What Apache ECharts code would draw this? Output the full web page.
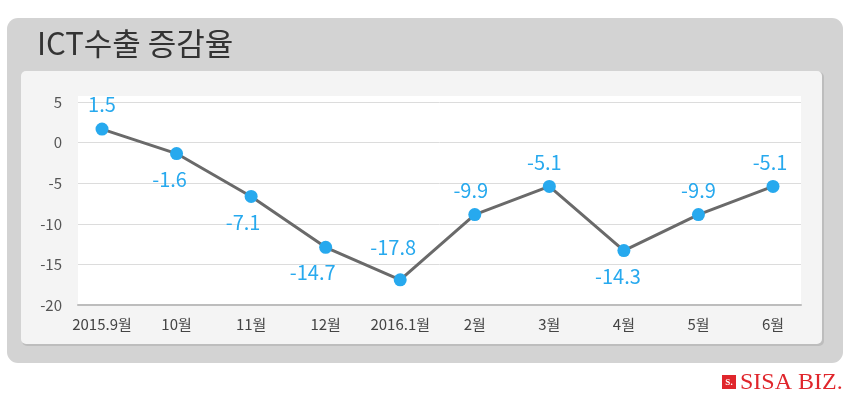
<!DOCTYPE html>
<html>
<head>
<meta charset="utf-8">
<script src="https://cdn.jsdelivr.net/npm/echarts@6/dist/echarts.min.js"></script>
<style>
html,body{margin:0;padding:0;background:#ffffff;}
#chart{width:860px;height:406px;}
</style>
</head>
<body>
<div id="chart"></div>
<script>
// ---- data ----
var categories = ['2015.9월', '10월', '11월', '12월', '2016.1월', '2월', '3월', '4월', '5월', '6월'];
// plotted positions
var values = [1.66, -1.35, -6.63, -12.9, -16.9, -8.86, -5.4, -13.3, -8.86, -5.4];
// printed value labels
var valueLabels = ['1.5', '-1.6', '-7.1', '-14.7', '-17.8', '-9.9', '-5.1', '-14.3', '-9.9', '-5.1'];
var yTicks = [5, 0, -5, -10, -15, -20];
var titleText = 'ICT수출 증감율';

// ---- label placement (style) ----
var labelStyle = [
  {position: 'top', distance: 8, offset: [0, 0]},
  {position: 'bottom', distance: 9, offset: [-7, 0]},
  {position: 'bottom', distance: 9, offset: [-8, 0]},
  {position: 'bottom', distance: 9, offset: [-13, 0]},
  {position: 'top', distance: 16, offset: [-7, 0]},
  {position: 'top', distance: 8, offset: [-4, 0]},
  {position: 'top', distance: 8, offset: [-5, 0]},
  {position: 'bottom', distance: 9, offset: [-6, 0]},
  {position: 'top', distance: 8, offset: [0, 0]},
  {position: 'top', distance: 8, offset: [-3, 0]}
];

var FONT = '"Noto Sans CJK KR", "Noto Sans", sans-serif';
var chart = echarts.init(document.getElementById('chart'), null, {renderer: 'canvas'});

var seriesData = values.map(function (v, i) {
  var s = labelStyle[i];
  return {
    value: v,
    label: {
      show: true,
      position: s.position,
      distance: s.distance,
      offset: s.offset,
      formatter: valueLabels[i]
    }
  };
});

var option = {
  animation: false,
  textStyle: {fontFamily: FONT},
  graphic: [
    {type: 'rect', z: -100, shape: {x: 7, y: 18, width: 836, height: 345, r: 11}, style: {fill: '#d3d3d3'}},
    {type: 'rect', z: -99, shape: {x: 22, y: 72, width: 802, height: 274, r: 5}, style: {fill: '#bdbdbd'}},
    {type: 'rect', z: -98, shape: {x: 21, y: 71, width: 801, height: 273, r: 5}, style: {fill: '#f4f4f4'}},
    {type: 'rect', z: -97, shape: {x: 78, y: 96, width: 723, height: 209}, style: {fill: '#ffffff'}},
    {type: 'text', z: 10, left: 37, top: 28, style: {text: titleText, font: '31px ' + FONT, fill: '#333333'}},
    {type: 'rect', z: 10, shape: {x: 722, y: 375, width: 14, height: 14}, style: {fill: '#e0262c'}},
    {type: 'text', z: 11, style: {text: 'S.', x: 729, y: 382.5, align: 'center', verticalAlign: 'middle', font: 'bold 9px "Liberation Serif", serif', fill: '#ffffff'}},
    {type: 'text', z: 10, style: {text: 'SISA BIZ.', x: 740, y: 382.5, verticalAlign: 'middle', font: '24px "Liberation Serif", serif', fill: '#e0262c'}}
  ],
  grid: [
    {left: 78, right: 59, top: 102, bottom: 101},
    {left: 102, right: 87, top: 102, bottom: 101}
  ],
  xAxis: [
    {
      gridIndex: 0, type: 'value', min: 0, max: 1,
      axisLine: {show: true, onZero: false, lineStyle: {color: '#bdbdbd', width: 2}},
      axisTick: {show: false}, axisLabel: {show: false}, splitLine: {show: false}
    },
    {
      gridIndex: 1, type: 'category', data: categories, boundaryGap: false,
      axisLine: {show: false}, axisTick: {show: false}, splitLine: {show: false},
      axisLabel: {color: '#444444', fontSize: 15, margin: 12, interval: 0, fontFamily: FONT}
    }
  ],
  yAxis: [
    {
      gridIndex: 0, type: 'value', min: yTicks[yTicks.length - 1], max: yTicks[0], interval: 5,
      axisLine: {show: false}, axisTick: {show: false},
      axisLabel: {color: '#555555', fontSize: 15, margin: 16, fontFamily: FONT},
      splitLine: {show: true, lineStyle: {color: '#dcdcdc', width: 1}}
    },
    {
      gridIndex: 1, type: 'value', min: yTicks[yTicks.length - 1], max: yTicks[0], interval: 5,
      show: false, splitLine: {show: false}
    }
  ],
  series: [
    {
      type: 'line', xAxisIndex: 1, yAxisIndex: 1,
      data: seriesData,
      symbol: 'circle', symbolSize: 13,
      lineStyle: {color: '#6a6a6a', width: 3},
      itemStyle: {color: '#27a9ee'},
      label: {color: '#27a9ee', fontSize: 20, fontFamily: FONT},
      z: 5
    }
  ]
};
chart.setOption(option);
</script>
</body>
</html>
